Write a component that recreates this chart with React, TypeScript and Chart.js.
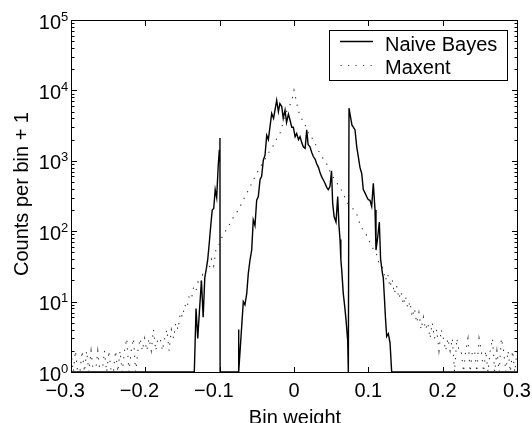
import React, { useEffect, useRef } from "react";
import { Chart, registerables } from "chart.js";

Chart.register(...registerables);

const FONT = "'Liberation Sans', Arial, Helvetica, sans-serif";

// Axis ticks
const xTickValues = [-0.3, -0.2, -0.1, 0, 0.1, 0.2, 0.3];
const yDecadeExponents = [0, 1, 2, 3, 4, 5];
const xAxisTitle = "Bin weight";
const yAxisTitle = "Counts per bin + 1";
const seriesNames = ["Naive Bayes", "Maxent"];

// Naive Bayes (solid): bin weight positions and counts+1
const nbX = [
  -0.3, -0.1341, -0.1318, -0.1295, -0.127, -0.1245, -0.1222, -0.12, -0.1178, -0.116,
  -0.114, -0.112, -0.11, -0.108, -0.106, -0.104, -0.102, -0.1005, -0.0996, -0.0994,
  -0.0752, -0.0748, -0.074, -0.0682, -0.066, -0.0636, -0.0615, -0.0592, -0.0569, -0.0548,
  -0.0525, -0.0502, -0.048, -0.0457, -0.0435, -0.0413, -0.039, -0.0367, -0.0345, -0.03,
  -0.0275, -0.0233, -0.021, -0.019, -0.0165, -0.0145, -0.0121, -0.01, -0.0075, -0.0054,
  -0.003, -0.0009, 0.0015, 0.0036, 0.006, 0.0081, 0.0105, 0.0125, 0.015, 0.0171,
  0.019, 0.0215, 0.024, 0.026, 0.0285, 0.0305, 0.033, 0.035, 0.0373, 0.04,
  0.0417, 0.044, 0.0461, 0.0484, 0.0505, 0.052, 0.054, 0.0565, 0.0588, 0.0605,
  0.0619, 0.063, 0.0642, 0.0663, 0.068, 0.07, 0.0722, 0.0731, 0.074, 0.076,
  0.078, 0.0798, 0.0821, 0.0844, 0.0865, 0.0888, 0.0911, 0.0932, 0.0955, 0.0978,
  0.1, 0.1022, 0.1045, 0.1067, 0.109, 0.1103, 0.1125, 0.1148, 0.1165, 0.119,
  0.1201, 0.1215, 0.123, 0.1247, 0.1269, 0.1292, 0.1314, 0.3,
];
const nbCounts = [
  1, 1, 8, 3, 8, 20, 6, 22, 30, 40,
  68, 120, 200, 210, 390, 300, 830, 1400, 2100, 1,
  1, 4, 1, 10, 9, 13, 25, 39, 54, 145,
  120, 275, 310, 540, 600, 1020, 1200, 2300, 2000, 4700,
  4000, 7200, 5000, 6500, 5900, 4000, 5250, 3500, 4600, 3800,
  3000, 3000, 2200, 2450, 2000, 2200, 1800, 1580, 1500, 2750,
  1700, 1580, 1300, 1150, 1050, 910, 800, 680, 590, 520,
  480, 420, 390, 430, 720, 250, 160, 135, 310, 120,
  76, 40, 28, 13, 9, 5.5, 2.8, 1, 5600, 4200,
  3200, 3000, 2750, 1580, 1150, 800, 660, 390, 350, 310,
  280, 275, 225, 480, 200, 54, 80, 135, 40, 25,
  22, 12, 6, 3.2, 3.5, 2.6, 1, 1,
];

// Maxent (dotted): histogram bins from -0.3 to 0.3, counts+1
const maxentBinStart = -0.3;
const maxentBinWidth = 0.003;
const maxentCounts = [
  2, 1, 2, 1, 1, 2, 1, 2, 1, 2,
  1, 1, 2, 1, 1, 2, 1, 2, 1, 1,
  2, 1, 2, 1, 2, 3, 1, 2, 3, 1,
  2, 3, 2, 3, 2, 3, 2, 4, 2, 3,
  3, 2, 3, 4, 2, 4, 3, 5, 4, 7,
  6, 9, 8, 12, 11, 16, 14, 19, 17, 24,
  21, 32, 30, 40, 32, 55, 60, 72, 87, 98,
  107, 123, 141, 162, 178, 200, 229, 269, 309, 355,
  407, 479, 550, 646, 724, 832, 933, 1050, 1230, 1350,
  1510, 1700, 2000, 2240, 2570, 3390, 4570, 5250, 6030, 7080,
  10000,
  7100, 5000, 4500, 3500, 3200, 2700, 2200, 2150, 1800, 1650,
  1380, 1230, 1080, 950, 880, 720, 640, 550, 510, 430,
  395, 350, 290, 250, 235, 220, 195, 180, 145, 112,
  106, 96, 80, 70, 62, 50, 47, 36, 35, 28,
  20, 25, 16, 21, 13, 17, 11, 14, 9, 12,
  8, 10, 6, 8, 5, 7, 4, 6, 4, 5,
  3, 5, 3, 4, 2, 4, 3, 2, 3, 2,
  3, 1, 3, 2, 2, 1, 2, 3, 1, 2,
  2, 1, 3, 2, 1, 2, 1, 2, 3, 1,
  2, 1, 3, 2, 1, 2, 1, 2, 1, 2,
];

const MAXENT_DASH = [1.3, 6.2];

function fmtX(v: number): string {
  if (Math.abs(v) < 1e-9) return "0";
  const s = Math.abs(v).toFixed(1);
  return v < 0 ? "\u2212" + s : s;
}

const overlayPlugin = {
  id: "overlay",
  afterDatasetsDraw(chart: any) {
    const { ctx, chartArea: a, scales } = chart;
    const xs = scales.x;
    const ys = scales.y;
    ctx.save();
    ctx.strokeStyle = "#000";
    ctx.fillStyle = "#000";
    ctx.lineWidth = 1;
    ctx.setLineDash([]);

    // frame
    ctx.strokeRect(a.left + 0.5, a.top + 0.5, a.right - a.left, a.bottom - a.top);

    ctx.beginPath();
    // x ticks (inward, top & bottom)
    for (const v of xTickValues) {
      const px = Math.round(xs.getPixelForValue(v)) + 0.5;
      ctx.moveTo(px, a.bottom + 0.5);
      ctx.lineTo(px, a.bottom - 5);
      ctx.moveTo(px, a.top + 0.5);
      ctx.lineTo(px, a.top + 6);
    }
    // y ticks major and minor (inward, left & right)
    for (const k of yDecadeExponents) {
      const py = Math.round(ys.getPixelForValue(Math.pow(10, k))) + 0.5;
      ctx.moveTo(a.left + 0.5, py);
      ctx.lineTo(a.left + 6, py);
      ctx.moveTo(a.right + 0.5, py);
      ctx.lineTo(a.right - 5, py);
      if (k < 5) {
        for (let m = 2; m <= 9; m++) {
          const pm = Math.round(ys.getPixelForValue(m * Math.pow(10, k))) + 0.5;
          ctx.moveTo(a.left + 0.5, pm);
          ctx.lineTo(a.left + 3.5, pm);
          ctx.moveTo(a.right + 0.5, pm);
          ctx.lineTo(a.right - 2.5, pm);
        }
      }
    }
    ctx.stroke();

    // x tick labels (numeric part centred, minus hangs left)
    ctx.font = `20px ${FONT}`;
    ctx.textBaseline = "alphabetic";
    for (const v of xTickValues) {
      const px = xs.getPixelForValue(v);
      const label = fmtX(v);
      const numPart = fmtX(Math.abs(v));
      const w = ctx.measureText(numPart).width;
      ctx.textAlign = "right";
      ctx.fillText(label, px + w / 2, a.bottom + 25);
    }

    // y tick labels 10^k
    for (const k of yDecadeExponents) {
      const py = ys.getPixelForValue(Math.pow(10, k));
      ctx.font = `20px ${FONT}`;
      ctx.textAlign = "right";
      ctx.fillText("10", 61, py + 8.5);
      ctx.font = `13px ${FONT}`;
      ctx.textAlign = "left";
      ctx.fillText(String(k), 61, py + 0.5);
    }

    // axis titles
    ctx.font = `20px ${FONT}`;
    ctx.textAlign = "center";
    ctx.fillText(xAxisTitle, (a.left + a.right) / 2 + 1, 424);
    ctx.save();
    ctx.translate(28, 194);
    ctx.rotate(-Math.PI / 2);
    ctx.fillText(yAxisTitle, 0, 0);
    ctx.restore();

    // legend
    const lx = 329.5, ly = 30.5, lw = 178, lh = 50;
    ctx.fillStyle = "#fff";
    ctx.fillRect(lx, ly, lw, lh);
    ctx.strokeStyle = "#000";
    ctx.strokeRect(lx, ly, lw, lh);
    ctx.beginPath();
    ctx.lineWidth = 1.3;
    ctx.moveTo(340, 41.5);
    ctx.lineTo(373, 41.5);
    ctx.stroke();
    ctx.beginPath();
    ctx.lineWidth = 1.1;
    ctx.strokeStyle = "#555";
    ctx.setLineDash(MAXENT_DASH);
    ctx.moveTo(340.5, 65.5);
    ctx.lineTo(372, 65.5);
    ctx.stroke();
    ctx.setLineDash([]);
    ctx.fillStyle = "#000";
    ctx.textAlign = "left";
    ctx.fillText(seriesNames[0], 385, 51);
    ctx.fillText(seriesNames[1], 385, 74);
    ctx.restore();
  },
};

export default function App() {
  const canvasRef = useRef<HTMLCanvasElement | null>(null);

  useEffect(() => {
    const canvas = canvasRef.current;
    if (!canvas) return;
    const nbData = nbX.map((x, i) => ({ x, y: nbCounts[i] }));
    const maxentData = maxentCounts.map((y, i) => ({
      x: maxentBinStart + i * maxentBinWidth,
      y,
    }));
    const chart = new Chart(canvas, {
      type: "line",
      data: {
        datasets: [
          {
            label: seriesNames[1],
            data: maxentData,
            borderColor: "#333",
            borderWidth: 1.1,
            borderDash: MAXENT_DASH,
            pointRadius: 0,
            tension: 0,
            fill: false,
          },
          {
            label: seriesNames[0],
            data: nbData,
            borderColor: "#000",
            borderWidth: 1.4,
            pointRadius: 0,
            tension: 0,
            fill: false,
          },
        ],
      },
      options: {
        animation: false,
        responsive: false,
        devicePixelRatio: 1,
        layout: { padding: { left: 0, right: 15, top: 20, bottom: 0 } },
        plugins: {
          legend: { display: false },
          tooltip: { enabled: false },
        },
        scales: {
          x: {
            type: "linear",
            min: -0.3,
            max: 0.3,
            grid: { display: false, drawTicks: false },
            border: { display: false },
            ticks: { display: false },
            afterFit: (s: any) => {
              s.height = 51;
            },
          },
          y: {
            type: "logarithmic",
            min: 1,
            max: 100000,
            grid: { display: false, drawTicks: false },
            border: { display: false },
            ticks: { display: false },
            afterFit: (s: any) => {
              s.width = 71;
            },
          },
        },
      },
      plugins: [overlayPlugin],
    });
    return () => chart.destroy();
  }, []);

  return (
    <div style={{ position: "absolute", left: 0, top: 0, width: 532, height: 423, background: "#fff" }}>
      <canvas ref={canvasRef} width={532} height={423} style={{ display: "block" }} />
    </div>
  );
}
